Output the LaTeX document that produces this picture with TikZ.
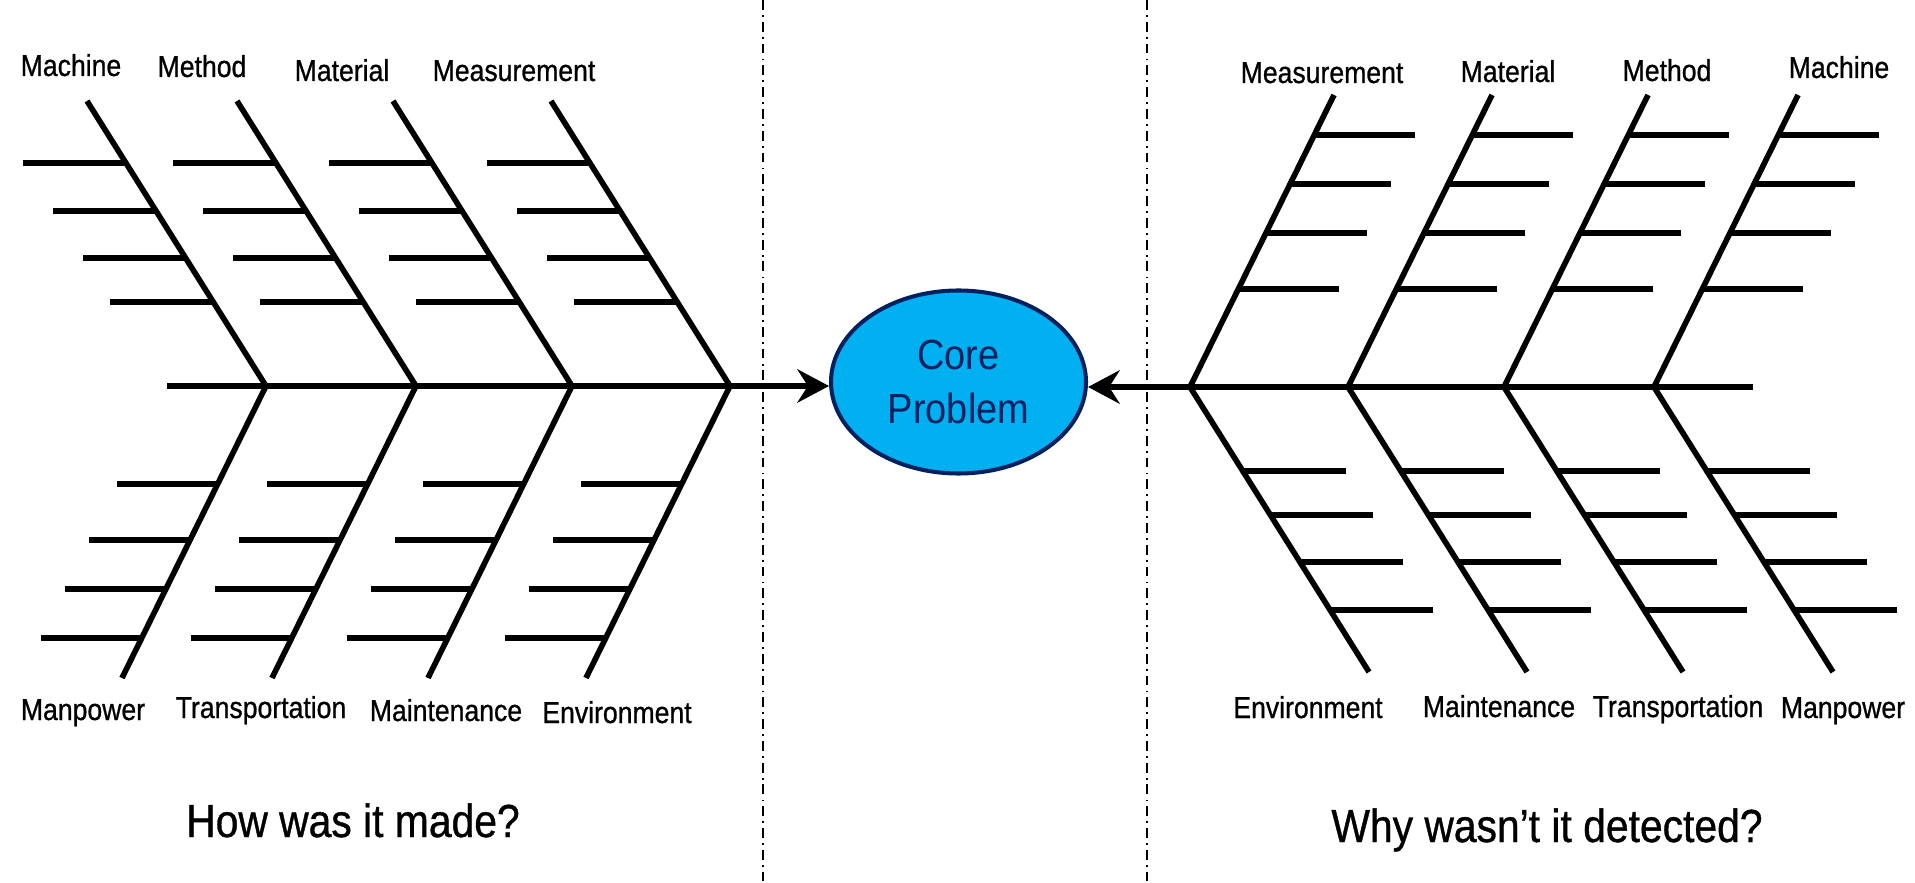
\documentclass[tikz,border=0pt]{standalone}
\usepackage{fontspec}
\setmainfont{Liberation Sans}[FakeStretch=0.9]
\newfontfamily\labfont{Liberation Sans}[FakeStretch=0.88,FakeBold=0.8]
\usepackage{tikz}
\usetikzlibrary{shapes.geometric,arrows.meta,calc}

\definecolor{coreblue}{HTML}{00B0F0}
\definecolor{corenavy}{HTML}{002060}

% one half of the fish: spine tail, four junctions, bones and ribs
\newcommand{\fishhalf}{%
   \coordinate (tail) at (167,386);
   \foreach \x [count=\i] in {266,416,572,730} {
      \coordinate (j\i)   at (\x,386);
      \coordinate (top\i) at (\x-179,101);
      \coordinate (bot\i) at (\x-144,678);
      \draw [bone] (top\i) -- (j\i) -- (bot\i);
      \foreach \t in {0.295,0.449,0.614,0.782}
         \draw [bone] ($(j\i)!\t!(top\i)$) -- ++(-103,0);
      \foreach \t in {0.336,0.527,0.695,0.863}
         \draw [bone] ($(j\i)!\t!(bot\i)$) -- ++(-101,0);
   }
   \draw [bone] (tail) -- (j4);
}

\begin{document}
\begin{tikzpicture}[x=0.1mm,y=-0.1mm,>={Stealth[length=9pt,width=9.5pt,inset=3pt]},
		bone/.style={line width=1.6pt},
		divider/.style={line width=0.6pt,dash pattern=on 2.8pt off 1.5pt on 0.5pt off 1.4pt},
		core/.style={ellipse,draw=corenavy,line width=1.15pt,fill=coreblue,text=corenavy,
			minimum width=25.5mm,minimum height=18.3mm,inner sep=0pt,align=center,
			font=\fontsize{12}{15.4}\selectfont},
		lab/.style={inner sep=0pt,anchor=base,font=\labfont\fontsize{8.6}{10}\selectfont},
		question/.style={inner sep=0pt,anchor=base,font=\labfont\fontsize{13.2}{15}\selectfont}]
   \useasboundingbox (0,0) rectangle (1915,883);

   % dividers
   \coordinate (divl-top) at (763,0);
   \coordinate (divl-bot) at (763,883);
   \coordinate (divr-top) at (1147,0);
   \coordinate (divr-bot) at (1147,883);
   \draw [divider] (divl-top) -- (divl-bot);
   \draw [divider] (divr-top) -- (divr-bot);

   \node [core] (core) at (958.5,382) {Core\\Problem};

   \begin{scope}[name prefix=L-]
      \fishhalf
   \end{scope}
   \begin{scope}[name prefix=R-,rotate around={180:(960,386.5)}]
      \fishhalf
   \end{scope}

   \draw [bone,->] (L-j4) -- (L-j4 -| core.west);
   \draw [bone,->] (R-j4) -- (R-j4 -| core.east);

   % left labels
   \node [lab] (l-machine)  at (71,76)   {Machine};
   \node [lab] (l-method)   at (202,77)  {Method};
   \node [lab] (l-material) at (342,81)  {Material};
   \node [lab] (l-measure)  at (514,81)  {Measurement};
   \node [lab] (l-manpower) at (83,720)  {Manpower};
   \node [lab] (l-transp)   at (261,718) {Transportation};
   \node [lab] (l-maint)    at (446,721) {Maintenance};
   \node [lab] (l-environ)  at (617,723) {Environment};

   % right labels
   \node [lab] (r-measure)  at (1322,83)  {Measurement};
   \node [lab] (r-material) at (1508,82)  {Material};
   \node [lab] (r-method)   at (1667,81)  {Method};
   \node [lab] (r-machine)  at (1839,78)  {Machine};
   \node [lab] (r-environ)  at (1308,718) {Environment};
   \node [lab] (r-maint)    at (1499,717) {Maintenance};
   \node [lab] (r-transp)   at (1678,717) {Transportation};
   \node [lab] (r-manpower) at (1843,718) {Manpower};

   \node [question] (how) at (353,837) {How was it made?};
   \node [question] (why) at (1547,842) {Why wasn’t it detected?};
\end{tikzpicture}
\end{document}
